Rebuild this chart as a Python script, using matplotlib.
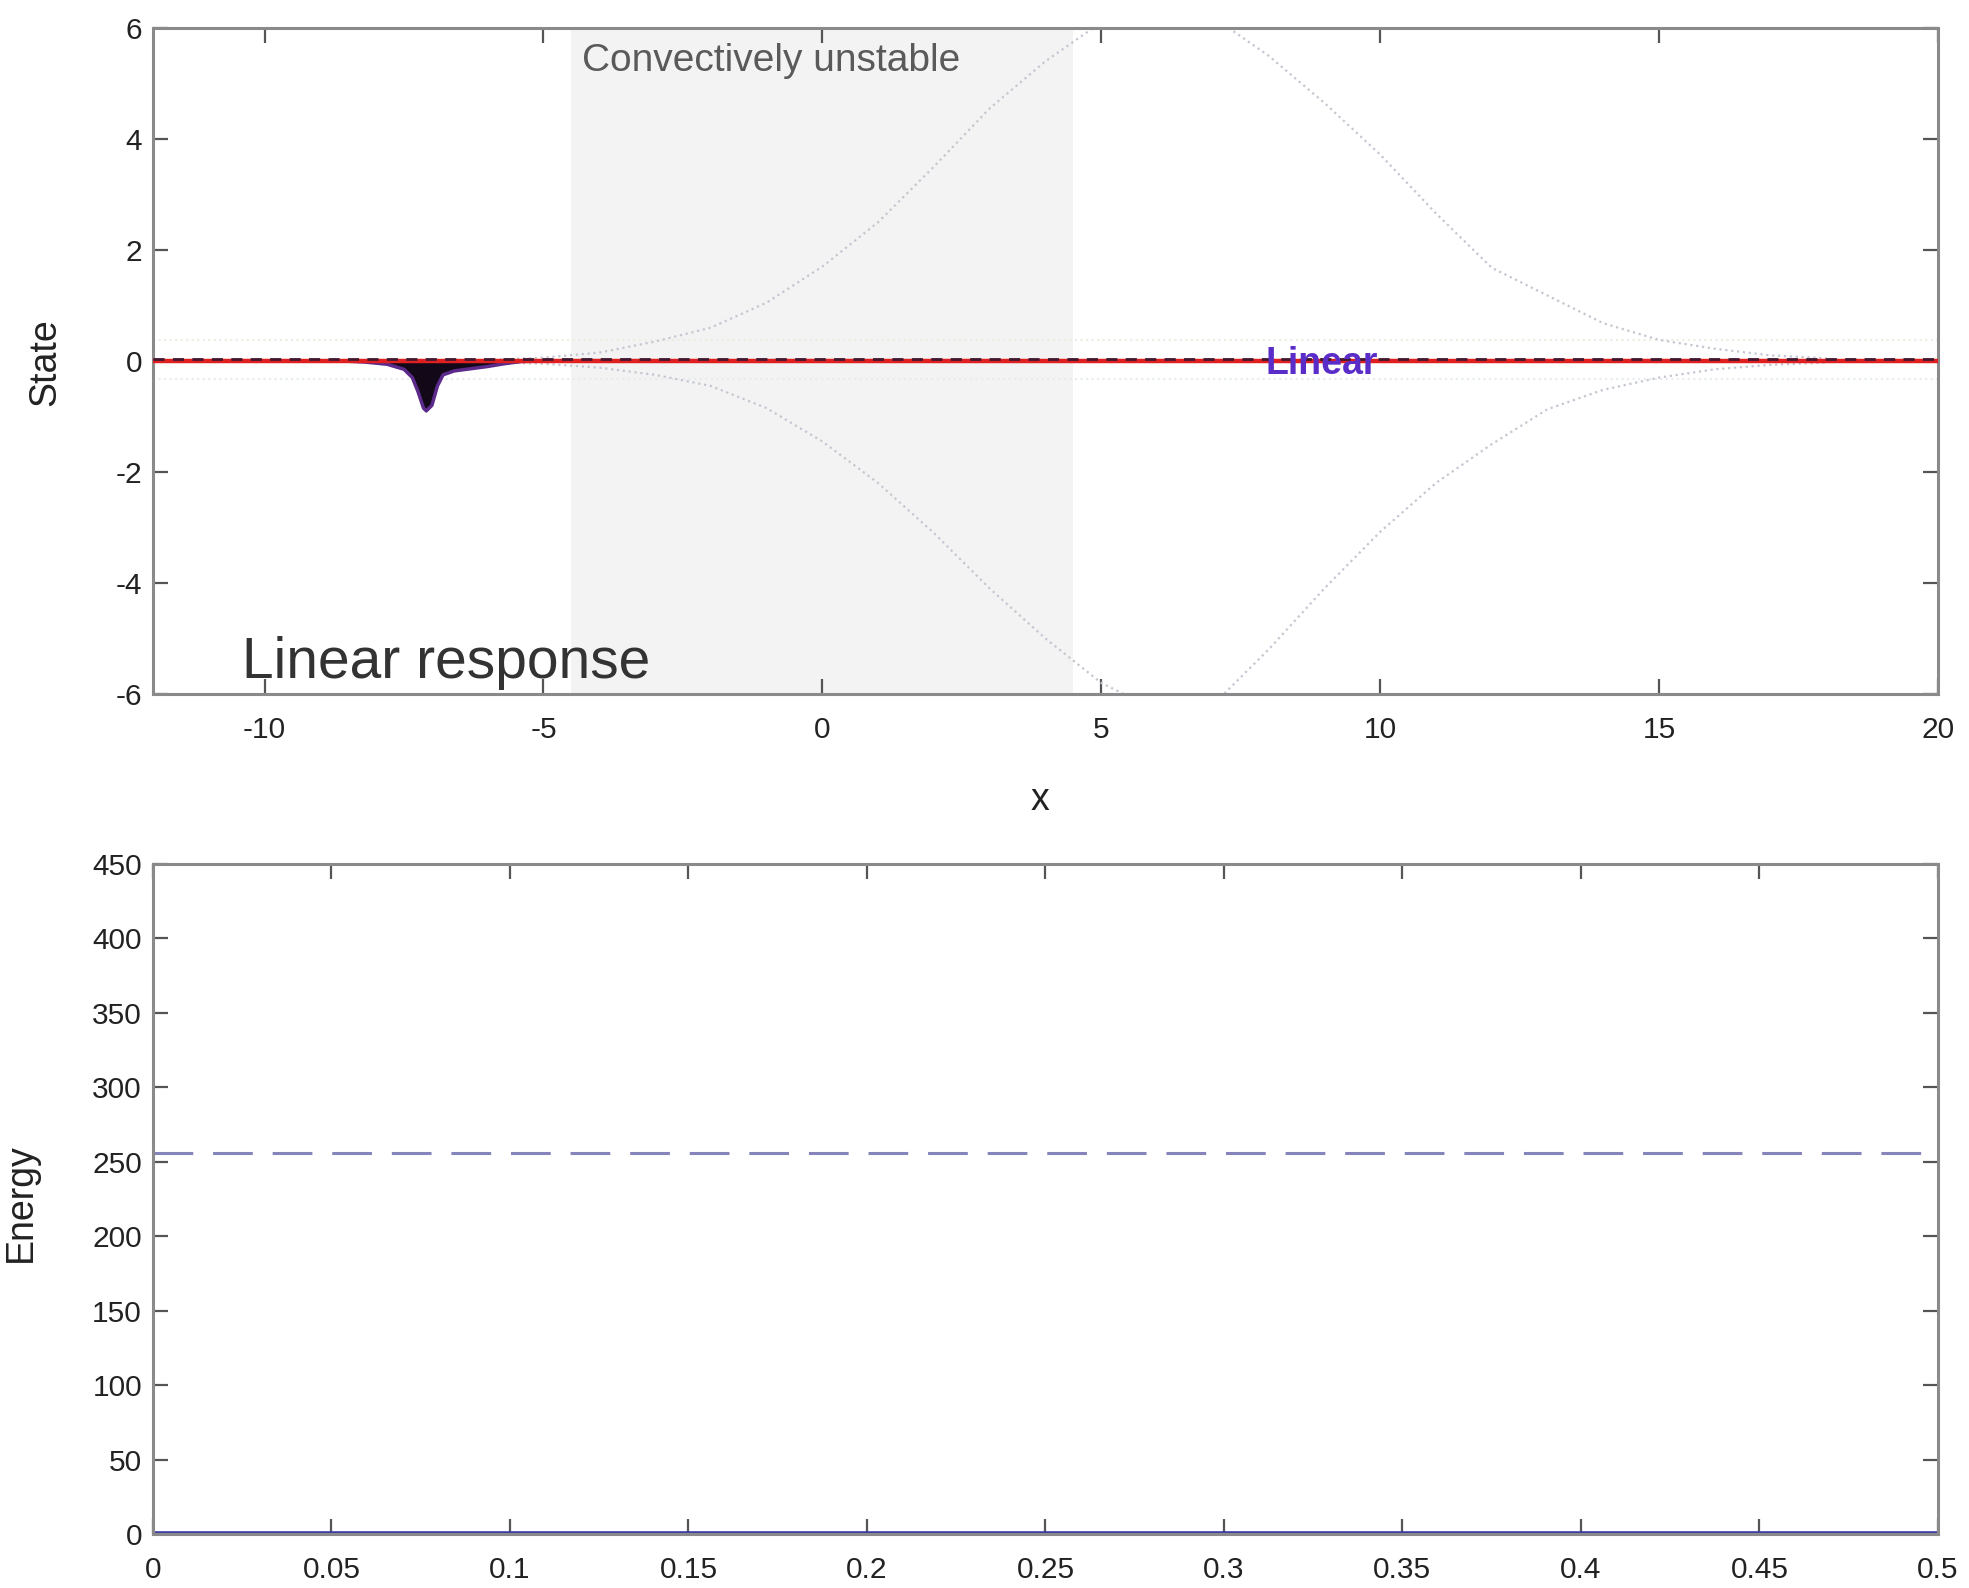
import numpy as np
import matplotlib
matplotlib.use("Agg")
import matplotlib.pyplot as plt

plt.rcParams['font.family'] = ['Liberation Sans', 'DejaVu Sans']
plt.rcParams['axes.unicode_minus'] = False

# state panel: localized pulse near x = -7
pulse_x = [-8.6, -8.2, -7.8, -7.5, -7.35, -7.25, -7.15, -7.1, -7.0, -6.9, -6.8, -6.6, -6.3, -6.0, -5.7, -5.4, -5.0]
pulse_y = [0.0, -0.02, -0.06, -0.15, -0.3, -0.55, -0.85, -0.9, -0.8, -0.45, -0.25, -0.18, -0.14, -0.1, -0.05, -0.01, 0.0]

# growth envelope (dotted), upper and lower branches
env_x = [-6, -5, -4, -3, -2, -1, 0, 1, 2, 3, 4, 5, 6, 7, 8, 9, 10, 11, 12, 13, 14, 15, 16, 17, 18]
env_upper = [0.02, 0.06, 0.15, 0.35, 0.6, 1.05, 1.7, 2.5, 3.5, 4.55, 5.4, 6.1, 6.4, 6.2, 5.5, 4.65, 3.72, 2.66, 1.68, 1.18, 0.68, 0.38, 0.22, 0.1, 0.05]
env_lower = [-0.02, -0.05, -0.12, -0.25, -0.45, -0.85, -1.45, -2.2, -3.1, -4.1, -5.0, -5.8, -6.3, -6.2, -5.2, -4.1, -3.08, -2.2, -1.5, -0.87, -0.52, -0.3, -0.15, -0.07, -0.03]

unstable_lo, unstable_hi = -4.5, 4.5

# energy panel
t = [0.0, 0.5]
energy = [1.0, 1.0]
energy_ref = [256.0, 256.0]
t_ticks = [0, 0.05, 0.1, 0.15, 0.2, 0.25, 0.3, 0.35, 0.4, 0.45, 0.5]
t_labels = ['0', '0.05', '0.1', '0.15', '0.2', '0.25', '0.3', '0.35', '0.4', '0.45', '0.5']

fig = plt.figure(figsize=(19.69, 15.88), dpi=100)
ax1 = fig.add_axes([0.0777, 0.563, 0.9065, 0.4194])
ax2 = fig.add_axes([0.0777, 0.034, 0.9065, 0.422])


def matlab_style(ax):
    for s in ax.spines.values():
        s.set_color('#8a8a8a')
        s.set_linewidth(2.2)
    ax.tick_params(direction='in', top=True, right=True, length=10.5, width=1.6,
                   color='#555555', labelsize=21.5, labelcolor='#222222')
    ax.tick_params(axis='x', pad=16)
    ax.tick_params(axis='y', pad=8)


# top panel
ax1.axvspan(unstable_lo, unstable_hi, color='#f3f3f3', lw=0, zorder=0)
ax1.axhline(0.38, color='#ecece2', lw=1.5, ls=':', zorder=1)
ax1.axhline(-0.33, color='#e6ecec', lw=1.5, ls=':', zorder=1)
ax1.plot(env_x, env_upper, ls=':', color='#c6c6d2', lw=1.6, zorder=2)
ax1.plot(env_x, env_lower, ls=':', color='#c6c6d2', lw=1.6, zorder=2)
ax1.fill_between(pulse_x, pulse_y, 0, color='#120818', lw=0, zorder=3)
ax1.plot(pulse_x, pulse_y, color='#5b2a8a', lw=2.5, zorder=4)
ax1.axhline(0, color='#e02020', lw=3.2, zorder=5)
ax1.axhline(0.04, color='#401830', lw=2.0, ls=(0, (4, 3)), zorder=6)

ax1.text(-4.3, 5.4, 'Convectively unstable', color='#5a5a5a', fontsize=28,
         ha='left', va='center', zorder=7)
ax1.text(-10.4, -5.45, 'Linear response', color='#333333', fontsize=41,
         ha='left', va='center', zorder=7)
ax1.text(8.95, -0.05, 'Linear', color='#5a2dc8', fontsize=27, fontweight='bold',
         ha='center', va='center', zorder=7)

ax1.set_xlim(-12, 20)
ax1.set_ylim(-6, 6)
ax1.set_xticks([-10, -5, 0, 5, 10, 15, 20])
ax1.set_yticks([-6, -4, -2, 0, 2, 4, 6])
ax1.set_xlabel('x', fontsize=27, color='#222222')
ax1.xaxis.set_label_coords(0.497, -0.132)
ax1.set_ylabel('State', fontsize=27, color='#222222')
ax1.yaxis.set_label_coords(-0.05, 0.498)
matlab_style(ax1)

# bottom panel
ax2.plot(t, energy_ref, color='#8585bb', lw=2.2, dashes=(13, 6.5))
ax2.plot(t, energy, color='#3c3ca8', lw=2.6)
ax2.set_xlim(0, 0.5)
ax2.set_ylim(0, 450)
ax2.set_xticks(t_ticks)
ax2.set_xticklabels(t_labels)
ax2.set_yticks(np.arange(0, 451, 50))
ax2.set_ylabel('Energy', fontsize=27, color='#222222')
ax2.yaxis.set_label_coords(-0.064, 0.494)
matlab_style(ax2)

fig.savefig('out.png', dpi=100)
